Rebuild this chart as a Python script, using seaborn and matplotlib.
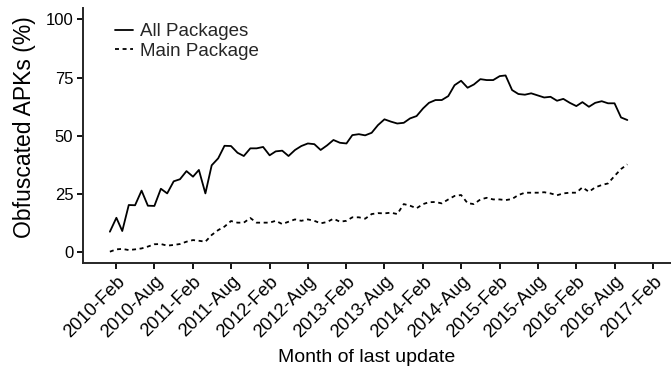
import pandas as pd
import numpy as np
import matplotlib
matplotlib.use('Agg')
import matplotlib.pyplot as plt
import matplotlib.dates as mdates
import seaborn as sns

# monthly share of obfuscated APKs, 2010-Jan .. 2016-Oct
months = pd.date_range('2010-01-01', '2016-10-01', freq='MS')

all_packages = [
    8.6, 14.6, 8.9, 20.1, 20.0, 26.3, 19.8, 19.7, 27.1, 25.1,
    30.3, 31.2, 34.7, 32.3, 35.2, 25.1, 37.2, 40.2, 45.6, 45.5,
    42.6, 41.2, 44.5, 44.5, 45.1, 41.5, 43.2, 43.5, 41.2, 43.8,
    45.5, 46.6, 46.3, 43.8, 45.8, 48.1, 46.9, 46.6, 50.2, 50.6,
    50.1, 51.2, 54.5, 57.0, 56.0, 55.2, 55.5, 57.4, 58.4, 61.7,
    64.1, 65.3, 65.3, 67.0, 71.7, 73.6, 70.6, 72.0, 74.3, 73.9,
    73.9, 75.6, 75.9, 69.6, 67.9, 67.6, 68.2, 67.3, 66.4, 66.7,
    65.0, 65.8, 64.1, 62.7, 64.4, 62.4, 64.1, 64.8, 63.9, 63.9,
    57.8, 56.7,
]

main_package = [
    0.0, 1.0, 1.2, 0.7, 1.0, 1.4, 2.2, 3.2, 3.3, 2.6,
    2.9, 3.3, 4.3, 5.0, 4.7, 4.3, 7.2, 9.3, 10.8, 13.2,
    12.5, 12.5, 14.5, 12.5, 12.5, 12.5, 13.3, 11.9, 12.9, 13.9,
    13.3, 13.9, 13.3, 12.2, 12.8, 14.2, 12.9, 13.3, 14.8, 14.8,
    14.2, 16.2, 16.6, 16.5, 16.8, 16.2, 20.5, 19.8, 18.7, 20.5,
    21.3, 21.4, 20.8, 22.5, 24.0, 24.4, 20.9, 20.5, 22.5, 23.2,
    22.5, 22.5, 22.2, 22.7, 24.4, 25.4, 25.4, 25.4, 25.6, 25.1,
    24.3, 25.1, 25.4, 25.4, 27.7, 25.8, 27.7, 28.7, 29.4, 32.6,
    35.6, 37.6,
]

series_names = ['All Packages', 'Main Package']
y_ticks = [0, 25, 50, 75, 100]
x_ticks = pd.date_range('2010-02-01', '2017-02-01', freq='6MS')

df = pd.DataFrame({
    'month': np.concatenate([months, months]),
    'pct': all_packages + main_package,
    'series': [series_names[0]] * len(months) + [series_names[1]] * len(months),
})

sns.set_theme(style='ticks')
plt.rcParams['font.family'] = ['Liberation Sans', 'DejaVu Sans']
plt.rcParams['axes.linewidth'] = 1.4

fig = plt.figure(figsize=(6.71, 3.74), dpi=100)
ax = fig.add_axes([0.1237, 0.296, 0.8763, 0.683])

sns.lineplot(data=df, x='month', y='pct', style='series', color='black',
             dashes={series_names[0]: '', series_names[1]: (2.2, 2)},
             linewidth=1.3, ax=ax)

ax.set_ylim(-5, 105)
ax.set_yticks(y_ticks)
ax.set_xlim(pd.Timestamp('2009-08-26'), pd.Timestamp('2017-04-27'))
ax.set_xticks(x_ticks)
ax.xaxis.set_major_formatter(mdates.DateFormatter('%Y-%b'))
plt.setp(ax.get_xticklabels(), rotation=45, ha='right', rotation_mode='anchor')
ax.tick_params(axis='both', colors='black', length=4, width=1.3, pad=3)
ax.tick_params(axis='x', labelsize=13.2)
ax.tick_params(axis='y', labelsize=12)

ax.set_xlabel('Month of last update', fontsize=14, color='black', va='center')
ax.set_ylabel('Obfuscated APKs (%)', fontsize=16.5, color='black', va='center')
ax.xaxis.set_label_coords(0.483, -0.37)
ax.yaxis.set_label_coords(-0.100, 0.533)
sns.despine(ax=ax)

ax.legend(loc='upper left', frameon=False, fontsize=13.5, handlelength=0.95,
          handletextpad=0.4, labelspacing=0.12, borderpad=0, borderaxespad=0,
          bbox_to_anchor=(0.054, 0.94))

fig.savefig('out.png', dpi=100)
